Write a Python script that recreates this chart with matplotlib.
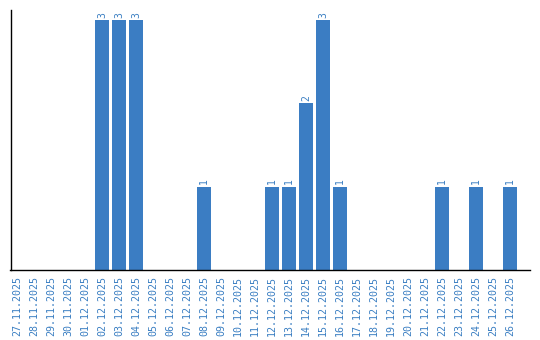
import matplotlib
matplotlib.use("Agg")
import matplotlib.pyplot as plt

# daily counts
dates = ["27.11.2025", "28.11.2025", "29.11.2025", "30.11.2025", "01.12.2025",
         "02.12.2025", "03.12.2025", "04.12.2025", "05.12.2025", "06.12.2025",
         "07.12.2025", "08.12.2025", "09.12.2025", "10.12.2025", "11.12.2025",
         "12.12.2025", "13.12.2025", "14.12.2025", "15.12.2025", "16.12.2025",
         "17.12.2025", "18.12.2025", "19.12.2025", "20.12.2025", "21.12.2025",
         "22.12.2025", "23.12.2025", "24.12.2025", "25.12.2025", "26.12.2025"]
counts = [0, 0, 0, 0, 0,
          3, 3, 3, 0, 0,
          0, 1, 0, 0, 0,
          1, 1, 2, 3, 1,
          0, 0, 0, 0, 0,
          1, 0, 1, 0, 1]

bar_col = "#3b7dc3"
txt_col = "#3a7ec2"

fig = plt.figure(figsize=(5.4, 3.4), dpi=100)
ax = fig.add_axes([10.5 / 540, 70 / 340, 519.5 / 540, 260 / 340])

x = list(range(len(dates)))
ax.bar(x, counts, width=0.82, color=bar_col)

for i, v in enumerate(counts):
    if v > 0:
        ax.text(i, v + 0.03, str(v), rotation=90, ha="center", va="bottom",
                color=txt_col, fontsize=7, family="DejaVu Sans Mono")

ax.set_xticks(x)
ax.set_xticklabels(dates, rotation=90, color=txt_col, fontsize=7.2,
                   family="DejaVu Sans Mono")
ax.tick_params(axis="x", length=0, pad=4)
ax.set_yticks([])
ax.set_xlim(-0.38, 30.18)
ax.set_ylim(0, 3.12)
ax.spines["top"].set_visible(False)
ax.spines["right"].set_visible(False)
ax.spines["left"].set_linewidth(1.0)
ax.spines["bottom"].set_linewidth(1.0)
ax.spines["left"].set_color("black")
ax.spines["bottom"].set_color("black")

fig.savefig("out.png", dpi=100)
